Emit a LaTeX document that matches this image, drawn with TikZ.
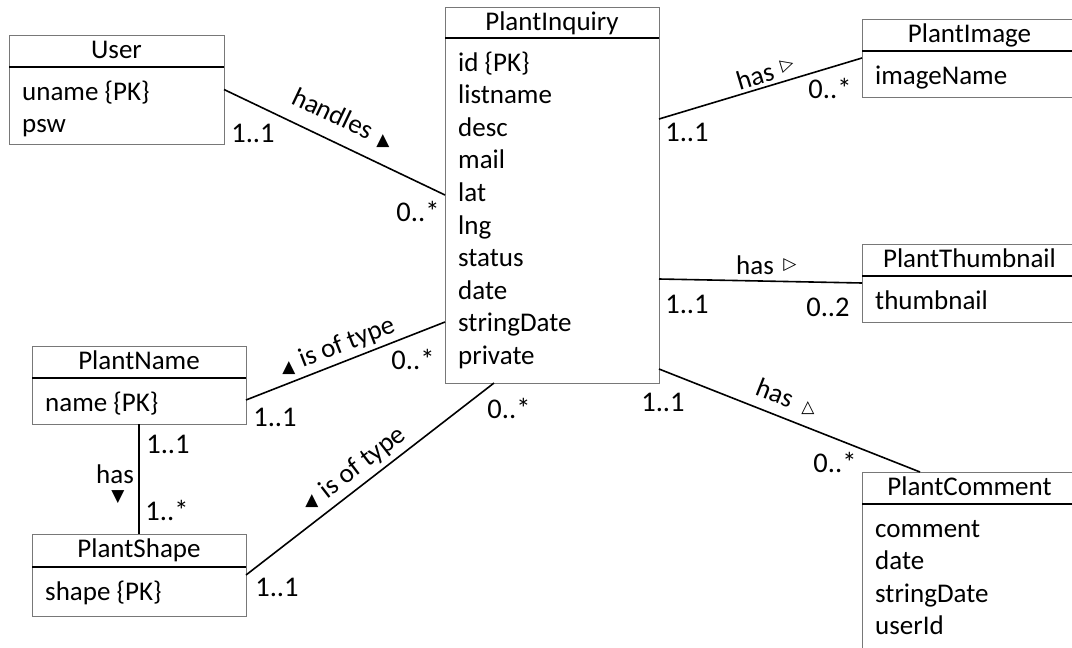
\documentclass[tikz,border=0pt]{standalone}
\usepackage{fontspec}
\setmainfont{Carlito}
\newfontfamily\symfont{DejaVu Sans}
\definecolor{boxgray}{RGB}{120,120,120}
\tikzset{
  clsbox/.style={draw=boxgray, line width=1pt, inner sep=0pt, outer sep=0pt, rectangle},
  divider/.style={draw=black, line width=2pt},
  ttl/.style={font=\fontsize{27}{30}\selectfont, inner sep=0pt},
  attr/.style={font=\fontsize{27}{30}\selectfont, inner sep=0pt},
  mult/.style={font=\fontsize{28.5}{30}\selectfont, inner sep=0pt},
  lbl/.style={font=\fontsize{27}{30}\selectfont, inner sep=0pt},
  tri/.style={font=\symfont\fontsize{17}{18}\selectfont, inner sep=0pt},
  assoc/.style={draw=black, line width=1.6pt},
}
% #1 name, #2 left, #3 top, #4 right, #5 divider y, #6 bottom, #7 title, #8 attributes
\newcommand\umlcls[8]{%
  \node[clsbox, minimum width={#4-#2}, minimum height={#6-#3}, anchor=north west] (#1) at (#2,#3) {};
  \draw[divider] (#1.west |- 0,#5) -- (#1.east |- 0,#5);
  \node[ttl, anchor=base] (#1-t) at ({(#2+#4)/2},{#3+23}) {#7};
  \foreach \a [count=\i] in {#8}
    \node[attr, anchor=base west] (#1-a\i) at ({#2+13},{#5+33+(\i-1)*32.6}) {\a};
}
\begin{document}
\begin{tikzpicture}[x=1pt,y=-1pt]
\useasboundingbox (0,0) rectangle (1072,648);
\clip (0,0) rectangle (1072,648);

\umlcls{user}{9}{35}{224}{67}{144}{User}{uname \{PK\}, psw}
\umlcls{pi}{445}{7}{659}{38}{383}{PlantInquiry}{id \{PK\}, listname, desc, mail, lat, lng, status, date, stringDate, private}
\umlcls{pimg}{862}{19}{1077}{51}{97}{PlantImage}{imageName}
\umlcls{pth}{862}{244}{1077}{276}{322}{PlantThumbnail}{thumbnail}
\umlcls{pn}{32}{346}{246}{378}{424}{PlantName}{name \{PK\}}
\umlcls{ps}{32}{534}{246}{567}{616}{PlantShape}{shape \{PK\}}
\umlcls{pc}{862}{472}{1077}{504}{660}{PlantComment}{comment, date, stringDate, userId}

% associations
\draw[assoc] (user.east) -- (pi.west);
\draw[assoc] ([yshift=-112pt]pi.north east) -- (pimg.west);
\draw[assoc] ([yshift=-272pt]pi.north east) -- (pth.west);
\draw[assoc] ([yshift=-362pt]pi.north east) -- ([xshift=58pt]pc.north west);
\draw[assoc] ([yshift=-315pt]pi.north west) -- ([yshift=-54pt]pn.north east);
\draw[assoc] ([xshift=49pt]pi.south west) -- ([yshift=-41pt]ps.north east);
\draw[assoc] (pn.south) -- (ps.north);

% association names
\node[lbl, rotate=-25.4] (l-handles) at (333,113) {handles};
\node[tri] (t-handles) at (383,141) {▲};
\node[lbl, rotate=16.7] (l-img) at (755,76) {has};
\node[tri, rotate=16.7] (t-img) at (787,65) {▷};
\node[lbl] (l-th) at (755,265) {has};
\node[tri] (t-th) at (790,265) {▷};
\node[lbl, rotate=-21.5] (l-cm) at (775,393) {has};
\node[tri] (t-cm) at (808,408) {△};
\node[lbl, rotate=21.4] (l-pn) at (347,343) {is of type};
\node[tri] (t-pn) at (289,368) {▲};
\node[lbl, rotate=37.7] (l-ps) at (363,463) {is of type};
\node[tri] (t-ps) at (312,501) {▲};
\node[lbl] (l-nh) at (115,474) {has};
\node[tri] (t-nh) at (118,497) {▼};

% multiplicities
\node[mult] (m1) at (253,133) {1..1};
\node[mult] (m2) at (418,211) {0..*};
\node[mult] (m3) at (687,132) {1..1};
\node[mult] (m4) at (830,88) {0..*};
\node[mult] (m5) at (687,304) {1..1};
\node[mult] (m6) at (828,307) {0..2};
\node[mult] (m7) at (663,402) {1..1};
\node[mult] (m8) at (835,462) {0..*};
\node[mult] (m9) at (413,359) {0..*};
\node[mult] (m10) at (275,417) {1..1};
\node[mult] (m11) at (509,408) {0..*};
\node[mult] (m12) at (277,587) {1..1};
\node[mult] (m13) at (168,444) {1..1};
\node[mult] (m14) at (167,510) {1..*};
\end{tikzpicture}
\end{document}
